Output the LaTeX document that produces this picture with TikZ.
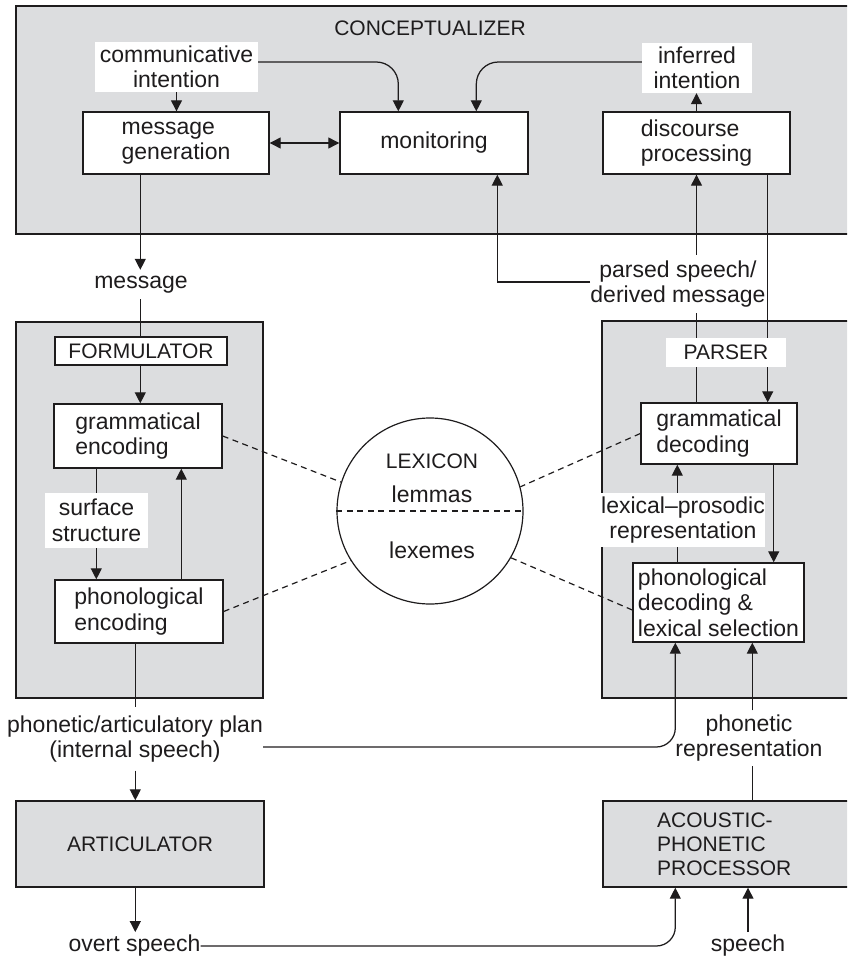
\documentclass[tikz,border=0pt]{standalone}
\usepackage{fontspec}
\setmainfont{Liberation Sans}
\usetikzlibrary{arrows.meta,calc}
\definecolor{panel}{RGB}{220,221,223}
\definecolor{ink}{RGB}{30,28,29}
\newcommand\lowfont{\fontsize{23}{25.5}\selectfont}
\newcommand\capfont{\fontsize{21}{24}\selectfont}
\begin{document}
\begin{tikzpicture}[x=1pt,y=-1pt,
  region/.style={draw=ink, line width=1.4pt, fill=panel, inner sep=0pt, text=ink, font=\capfont},
  proc/.style={draw=ink, line width=1.4pt, fill=white, inner sep=0pt, align=left, text=ink, font=\lowfont},
  lbl/.style={fill=white, inner sep=0pt, align=center, text=ink, font=\lowfont},
  plain/.style={inner sep=0pt, align=center, text=ink, font=\lowfont},
  conn/.style={draw=ink, line width=1.25pt},
  arr/.style={conn, -{Triangle[length=11pt,width=11pt]}},
  darr/.style={conn, {Triangle[length=11pt,width=11pt]}-{Triangle[length=11pt,width=11pt]}},
  lexdash/.style={draw=ink, line width=1.2pt, dash pattern=on 6pt off 4.5pt},
]
\path[use as bounding box] (0,0) rectangle (847,958);
\clip (0,0) rectangle (847,958);

% processing regions
\node[region, minimum width=844pt, minimum height=228pt] (concept) at (438,120) {};
\node[region, minimum width=247pt, minimum height=376pt] (form) at (139.5,510) {};
\node[region, minimum width=258pt, minimum height=377pt] (parser) at (731,509.5) {};
\node[region, minimum width=248pt, minimum height=86pt] (artic) at (140,844) {ARTICULATOR};
\node[region, minimum width=257pt, minimum height=86pt] (acoustic) at (731.5,844) {};
\node[anchor=west, inner sep=0pt, align=left, text=ink, font=\capfont] (acoustictext) at (657,844) {ACOUSTIC-\\PHONETIC\\PROCESSOR};
\node[inner sep=0pt, text=ink, font=\capfont] (concepttitle) at (430,28) {CONCEPTUALIZER};

% conceptualizer contents
\node[lbl, minimum width=163pt, minimum height=50pt] (comm) at (176.5,67) {communicative\\intention};
\node[lbl, minimum width=110pt, minimum height=50pt] (infer) at (697,68) {inferred\\intention};
\node[proc, minimum width=186pt, minimum height=62pt] (mg) at (176,143) {message\\generation};
\node[proc, minimum width=188pt, minimum height=62pt] (mon) at (434,143) {monitoring};
\node[proc, minimum width=187pt, minimum height=62pt] (dp) at (696.5,143) {discourse\\processing};

% formulator contents
\node[plain, minimum height=29pt] (msg) at (141,284.5) {message};
\node[proc, align=center, font=\capfont, minimum width=172pt, minimum height=28pt] (flab) at (141,351) {FORMULATOR};
\node[proc, minimum width=168pt, minimum height=64pt] (ge) at (138,436) {grammatical\\encoding};
\node[lbl, minimum width=103pt, minimum height=55pt] (ss) at (96.5,520.5) {surface\\structure};
\node[proc, minimum width=168pt, minimum height=63pt] (pe) at (139,611.5) {phonological\\encoding};
\node[plain, minimum height=63pt] (pap) at (135,739) {phonetic/articulatory plan\\(internal speech)};
\node[plain, inner ysep=3pt] (overt) at (134.5,946) {overt speech};

% parser contents
\node[plain, minimum height=58pt] (psdm) at (678,284) {parsed speech/\\derived message};
\node[lbl, font=\capfont, minimum width=120pt, minimum height=29pt] (plabel) at (726,352.5) {PARSER};
\node[proc, minimum width=156pt, minimum height=61pt] (gd) at (719,433.5) {grammatical\\decoding};
\node[lbl, minimum width=160pt, minimum height=54pt] (lp) at (683,520) {lexical–prosodic\\representation};
\node[proc, minimum width=171pt, minimum height=79pt] (pd) at (718.5,602.5) {phonological\\decoding \&\\lexical selection};
\node[plain, minimum height=55pt] (pr) at (749,738) {phonetic\\representation};
\node[plain, inner ysep=3pt] (speech) at (748,946) {speech};

% lexicon
\node[circle, draw=ink, line width=1.2pt, fill=white, minimum size=186pt, inner sep=0pt] (lex) at (430,511) {};
\draw[lexdash] (lex.west) -- (lex.east);
\node[inner sep=0pt, text=ink, font=\capfont] (lexname) at (432,461) {LEXICON};
\node[inner sep=0pt, text=ink, font=\lowfont] (lemmas) at (432,494) {lemmas};
\node[inner sep=0pt, text=ink, font=\lowfont] (lexemes) at (432,550) {lexemes};

% dashed links to the lexicon
\draw[lexdash] (ge.east) -- (lex.162);
\draw[lexdash] (pe.east) -- (lex.212);
\draw[lexdash] (gd.west) -- (lex.15);
\draw[lexdash] ([yshift=-7.5pt]pd.west) -- (lex.330);

% conceptualizer connectors
\draw[arr] (comm.south) -- (comm.south |- mg.north);
\draw[arr, rounded corners=22pt] ([yshift=5pt]comm.east) -| ($(mon.north west)+(59,0)$);
\draw[arr, rounded corners=22pt] ([yshift=6pt]infer.west) -| ($(mon.north west)+(137,0)$);
\draw[darr] (mg.east) -- (mon.west);
\draw[arr] (dp.north) -- (dp.north |- infer.south);

% speaking route
\coordinate (mgout) at ($(mg.south west)+(58,0)$);
\draw[arr] (mgout) -- (mgout |- msg.north);
\draw[conn] (mgout |- msg.south) -- (mgout |- flab.north);
\draw[arr] (mgout |- flab.south) -- (mgout |- ge.north);
\coordinate (geout) at ($(ge.south west)+(43,0)$);
\draw[conn] (geout) -- (geout |- ss.north);
\draw[arr] (geout |- ss.south) -- (geout |- pe.north);
\coordinate (peback) at ($(pe.north west)+(127,0)$);
\draw[arr] (peback) -- (peback |- ge.south);
\coordinate (peout) at ($(pe.south west)+(81,0)$);
\draw[conn] (peout) -- (peout |- pap.north);
\draw[arr] (peout |- pap.south) -- (peout |- artic.north);
\draw[arr] (peout |- artic.south) -- (peout |- overt.north);

% internal and overt speech loops
\draw[arr, rounded corners=19pt] ([yshift=-8pt]pap.east) -| ($(pd.south west)+(43,0)$);
\draw[arr, rounded corners=19pt] (overt.east) -| ($(acoustic.south west)+(73,0)$);

% comprehension route
\draw[arr] (speech.north) -- (speech.north |- acoustic.south);
\coordinate (acin) at ($(acoustic.north west)+(150,0)$);
\draw[conn] (acin) -- (acin |- pr.south);
\draw[arr] (acin |- pr.north) -- (acin |- pd.south);
\coordinate (pdup) at ($(pd.north west)+(45,0)$);
\draw[conn] (pdup) -- (pdup |- lp.south);
\draw[arr] (pdup |- lp.north) -- (pdup |- gd.south);
\coordinate (gddown) at ($(gd.south east)+(-24,0)$);
\draw[arr] (gddown) -- (gddown |- pd.north);
\draw[conn] (dp.south |- gd.north) -- (dp.south |- plabel.south);
\draw[conn] (dp.south |- plabel.north) -- (dp.south |- psdm.south);
\draw[arr] (dp.south |- psdm.north) -- (dp.south);
\draw[arr] ([yshift=2pt]psdm.west) -| ($(mon.south west)+(158,0)$);
\coordinate (dpout) at ($(dp.south east)+(-23,0)$);
\draw[conn] (dpout) -- (dpout |- plabel.north);
\draw[arr] (dpout |- plabel.south) -- (dpout |- gd.north);
\end{tikzpicture}
\end{document}
